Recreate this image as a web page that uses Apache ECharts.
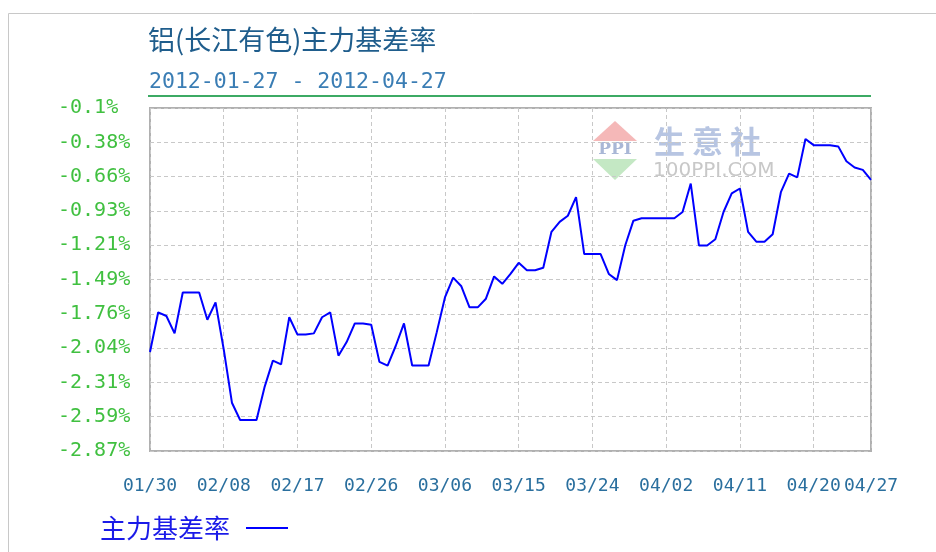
<!DOCTYPE html>
<html>
<head>
<meta charset="utf-8">
<script src="https://cdn.jsdelivr.net/npm/echarts@6/dist/echarts.min.js"></script>
<style>
  html, body { margin: 0; padding: 0; background: #ffffff; }
  #chart { width: 936px; height: 552px; }
</style>
</head>
<body>
<div id="chart"></div>
<script>
const titleText = '铝(长江有色)主力基差率';
const subtitleText = '2012-01-27 - 2012-04-27';
const seriesName = '主力基差率';

const dates = [
  '01/30','01/31',
  '02/01','02/02','02/03','02/04','02/05','02/06','02/07','02/08','02/09','02/10',
  '02/11','02/12','02/13','02/14','02/15','02/16','02/17','02/18','02/19','02/20',
  '02/21','02/22','02/23','02/24','02/25','02/26','02/27','02/28','02/29',
  '03/01','03/02','03/03','03/04','03/05','03/06','03/07','03/08','03/09','03/10',
  '03/11','03/12','03/13','03/14','03/15','03/16','03/17','03/18','03/19','03/20',
  '03/21','03/22','03/23','03/24','03/25','03/26','03/27','03/28','03/29','03/30','03/31',
  '04/01','04/02','04/03','04/04','04/05','04/06','04/07','04/08','04/09','04/10',
  '04/11','04/12','04/13','04/14','04/15','04/16','04/17','04/18','04/19','04/20',
  '04/21','04/22','04/23','04/24','04/25','04/26','04/27'
];

const basisRate = [
  -2.07, -1.75, -1.78, -1.92, -1.59, -1.59, -1.59, -1.81, -1.67, -2.05,
  -2.48, -2.62, -2.62, -2.62, -2.35, -2.14, -2.17, -1.79, -1.93, -1.93,
  -1.92, -1.79, -1.75, -2.10, -1.99, -1.84, -1.84, -1.85, -2.15, -2.18,
  -2.02, -1.84, -2.18, -2.18, -2.18, -1.91, -1.63, -1.47, -1.54, -1.71,
  -1.71, -1.64, -1.46, -1.52, -1.44, -1.35, -1.41, -1.41, -1.39, -1.10,
  -1.02, -0.97, -0.82, -1.28, -1.28, -1.28, -1.44, -1.49, -1.21, -1.01,
  -0.99, -0.99, -0.99, -0.99, -0.99, -0.94, -0.71, -1.21, -1.21, -1.16,
  -0.94, -0.79, -0.75, -1.10, -1.18, -1.18, -1.12, -0.78, -0.63, -0.66,
  -0.35, -0.40, -0.40, -0.40, -0.41, -0.53, -0.58, -0.60, -0.68
];

const yTickLabels = ['-2.87%','-2.59%','-2.31%','-2.04%','-1.76%','-1.49%','-1.21%','-0.93%','-0.66%','-0.38%','-0.1%'];
const yMin = -2.87;
const yMax = -0.1;
const yStep = 0.277;
const xLabelStep = 9;

const chart = echarts.init(document.getElementById('chart'), null, { renderer: 'canvas' });

function showXTick(index) {
  return index % xLabelStep === 0 || index === dates.length - 1;
}

const option = {
  animation: false,
  backgroundColor: '#ffffff',
  title: [
    {
      text: titleText,
      left: 143,
      top: 21,
      textStyle: { fontFamily: 'Noto Sans CJK SC', fontSize: 27, fontWeight: 'normal', color: '#1f5d8c' }
    },
    {
      text: subtitleText,
      left: 144,
      top: 66,
      textStyle: { fontFamily: 'DejaVu Sans Mono', fontSize: 21.5, fontWeight: 'normal', color: '#3a7db4' }
    }
  ],
  legend: {
    data: [seriesName],
    left: 95,
    top: 510,
    align: 'right',
    icon: 'rect',
    itemWidth: 42,
    itemHeight: 2,
    textStyle: { fontFamily: 'Noto Sans CJK SC', fontSize: 26, color: '#1a1ae8', padding: [0, 11, 0, 0] }
  },
  grid: {
    left: 150,
    right: 65,
    top: 108,
    bottom: 101,
    show: true,
    borderColor: '#b0b0b0',
    borderWidth: 2,
    backgroundColor: 'transparent',
    containLabel: false
  },
  xAxis: {
    type: 'category',
    data: dates,
    boundaryGap: false,
    axisLine: { show: false },
    axisTick: { show: false },
    axisLabel: {
      interval: showXTick,
      margin: 26,
      color: '#2a6f9e',
      fontFamily: 'DejaVu Sans Mono',
      fontSize: 18
    },
    splitLine: {
      show: true,
      interval: showXTick,
      lineStyle: { color: '#c8c8c8', width: 1, type: [4, 3] }
    }
  },
  yAxis: {
    type: 'value',
    min: yMin,
    max: yMax,
    interval: yStep,
    axisLine: { show: false },
    axisTick: { show: false },
    axisLabel: {
      align: 'left',
      margin: 92,
      color: '#40c040',
      fontFamily: 'DejaVu Sans Mono',
      fontSize: 20,
      showMinLabel: true,
      showMaxLabel: true,
      formatter: function (v) {
        const idx = Math.round((v - yMin) / yStep);
        return yTickLabels[idx] !== undefined ? yTickLabels[idx] : '';
      }
    },
    splitLine: {
      show: true,
      lineStyle: { color: '#c8c8c8', width: 1, type: [4, 3] }
    }
  },
  graphic: [
    {
      type: 'rect',
      z: -10,
      silent: true,
      shape: { x: 8.5, y: 13.5, width: 1000, height: 1000 },
      style: { fill: 'none', stroke: '#c8c8c8', lineWidth: 1 }
    },
    {
      type: 'line',
      silent: true,
      shape: { x1: 148, y1: 96, x2: 871, y2: 96 },
      style: { stroke: '#3caa64', lineWidth: 2 }
    },
    {
      type: 'polygon',
      z: 0,
      silent: true,
      shape: { points: [[593, 141], [615, 121], [637, 141]] },
      style: { fill: '#f5b8b8' }
    },
    {
      type: 'polygon',
      z: 0,
      silent: true,
      shape: { points: [[593, 159], [637, 159], [615, 180]] },
      style: { fill: '#c4e8c4' }
    },
    {
      type: 'text',
      z: 0,
      silent: true,
      x: 615,
      y: 150,
      style: {
        text: 'PPI',
        align: 'center',
        verticalAlign: 'middle',
        font: 'bold 17px "DejaVu Serif"',
        fill: '#a9b7d6'
      }
    },
    {
      type: 'text',
      z: 0,
      silent: true,
      x: 654,
      y: 141,
      style: {
        text: '生 意 社',
        align: 'left',
        verticalAlign: 'middle',
        font: 'bold 31px "Noto Sans CJK SC"',
        fill: '#b7c5e2'
      }
    },
    {
      type: 'text',
      z: 0,
      silent: true,
      x: 653,
      y: 171,
      style: {
        text: '100PPI.COM',
        align: 'left',
        verticalAlign: 'middle',
        font: '20px "DejaVu Sans"',
        fill: '#c8c8c8'
      }
    }
  ],
  series: [
    {
      name: seriesName,
      type: 'line',
      data: basisRate,
      symbol: 'none',
      smooth: false,
      z: 5,
      lineStyle: { color: '#0000ff', width: 2 },
      itemStyle: { color: '#0000ff' }
    }
  ]
};

chart.setOption(option);
</script>
</body>
</html>
